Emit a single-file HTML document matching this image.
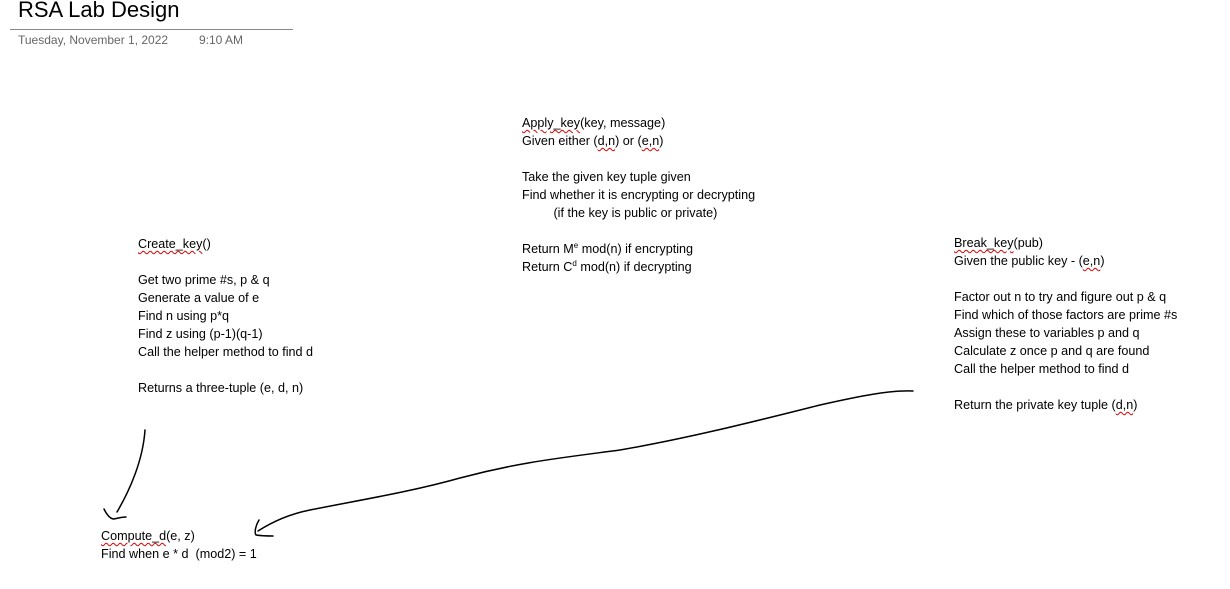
<!DOCTYPE html>
<html><head><meta charset="utf-8"><style>
body{margin:0;width:1230px;height:589px;background:#fff;position:relative;overflow:hidden;font-family:"Liberation Sans",sans-serif;color:#000}
.t{position:absolute;font-size:12.6px;line-height:18px;white-space:pre}
.s{text-decoration:underline wavy #d00;text-decoration-thickness:1px;text-underline-offset:2px}
sup{font-size:8px;vertical-align:5px;line-height:0}
</style></head><body>
<div style="position:absolute;left:18px;top:-3px;font-size:22px;color:#000">RSA Lab Design</div>
<div style="position:absolute;left:10px;top:29px;width:283px;height:1px;background:#888"></div>
<div style="position:absolute;left:18px;top:33px;font-size:12px;color:#666">Tuesday, November 1, 2022</div>
<div style="position:absolute;left:199px;top:33px;font-size:12px;color:#666">9:10 AM</div>

<div class="t" style="left:138px;top:235px"><span class="s">Create_key</span>()

Get two prime #s, p &amp; q
Generate a value of e
Find n using p*q
Find z using (p-1)(q-1)
Call the helper method to find d

Returns a three-tuple (e, d, n)</div>

<div class="t" style="left:522px;top:114px"><span class="s">Apply_key</span>(key, message)
Given either (<span class="s">d,n</span>) or (<span class="s">e,n</span>)

Take the given key tuple given
Find whether it is encrypting or decrypting
         (if the key is public or private)

Return M<sup>e</sup> mod(n) if encrypting
Return C<sup>d</sup> mod(n) if decrypting</div>

<div class="t" style="left:954px;top:234px"><span class="s">Break_key</span>(pub)
Given the public key - (<span class="s">e,n</span>)

Factor out n to try and figure out p &amp; q
Find which of those factors are prime #s
Assign these to variables p and q
Calculate z once p and q are found
Call the helper method to find d

Return the private key tuple (<span class="s">d,n</span>)</div>

<div class="t" style="left:101px;top:527px"><span class="s">Compute_d</span>(e, z)
Find when e * d  (mod2) = 1</div>

<svg width="1230" height="589" style="position:absolute;left:0;top:0" fill="none" stroke="#000" stroke-width="1.5" stroke-linecap="round">
<path d="M145,430 C143,460 130,490 117,512"/>
<path d="M104,509 C107,515 110,519 114,519 C118,518 122,517 126,517"/>
<path d="M913,391 C890,390 860,396 820,405 C760,420 690,438 620,450 C560,458 520,462 460,478 C410,492 360,500 310,510 C290,514 272,522 258,531"/>
<path d="M259,520 C256,525 254,532 256,535 C262,536 268,536 273,536"/>
</svg>
</body></html>
